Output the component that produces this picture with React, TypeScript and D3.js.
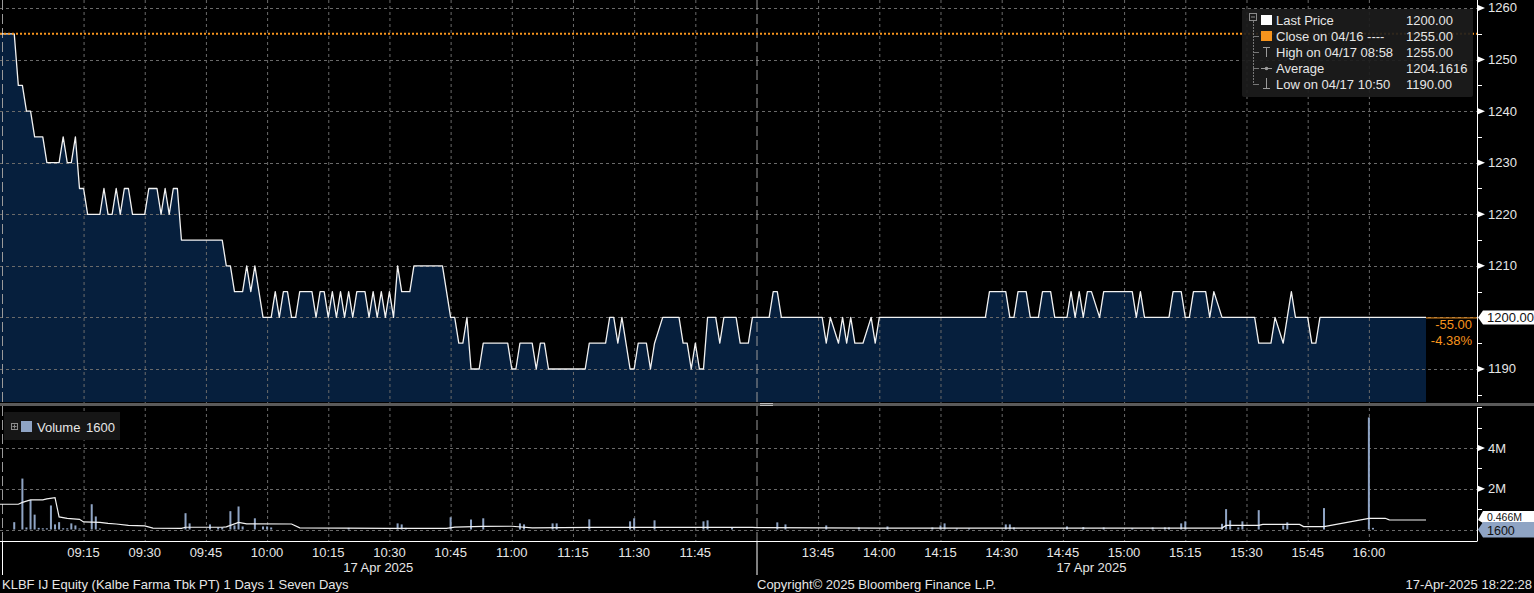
import React from 'react';
import * as d3 from 'd3';

const W = 1534;
const H = 593;

// Last price, morning session (time, IDR)
const PRICE_AM: [string, number][] = [
  ['08:54', 1255], ['08:58', 1255], ['08:59', 1245], ['09:00', 1245], ['09:01', 1240], ['09:02', 1240],
  ['09:03', 1235], ['09:05', 1235], ['09:06', 1230], ['09:09', 1230], ['09:10', 1235], ['09:11', 1230],
  ['09:12', 1230], ['09:13', 1235], ['09:14', 1225], ['09:15', 1225], ['09:16', 1220], ['09:19', 1220],
  ['09:20', 1225], ['09:21', 1220], ['09:22', 1220], ['09:23', 1225], ['09:24', 1220], ['09:25', 1225],
  ['09:26', 1225], ['09:27', 1220], ['09:30', 1220], ['09:31', 1225], ['09:33', 1225], ['09:34', 1220],
  ['09:35', 1225], ['09:36', 1220], ['09:37', 1225], ['09:38', 1225], ['09:39', 1215], ['09:49', 1215],
  ['09:50', 1210], ['09:51', 1210], ['09:52', 1205], ['09:54', 1205], ['09:55', 1210], ['09:56', 1205],
  ['09:57', 1210], ['09:58', 1205], ['09:59', 1200], ['10:01', 1200], ['10:02', 1205], ['10:03', 1200],
  ['10:04', 1205], ['10:05', 1205], ['10:06', 1200], ['10:07', 1200], ['10:08', 1205], ['10:11', 1205],
  ['10:12', 1200], ['10:13', 1205], ['10:14', 1205], ['10:15', 1200], ['10:16', 1205], ['10:17', 1200],
  ['10:18', 1205], ['10:19', 1200], ['10:20', 1205], ['10:21', 1200], ['10:22', 1205], ['10:24', 1205],
  ['10:25', 1200], ['10:26', 1205], ['10:27', 1200], ['10:28', 1205], ['10:29', 1200], ['10:30', 1205],
  ['10:31', 1200], ['10:32', 1210], ['10:33', 1205], ['10:35', 1205], ['10:36', 1210], ['10:43', 1210],
  ['10:45', 1200], ['10:46', 1200], ['10:47', 1195], ['10:48', 1195], ['10:49', 1200], ['10:50', 1190],
  ['10:52', 1190], ['10:53', 1195], ['10:59', 1195], ['11:00', 1190], ['11:01', 1190], ['11:02', 1195],
  ['11:05', 1195], ['11:06', 1190], ['11:07', 1195], ['11:08', 1195], ['11:09', 1190], ['11:18', 1190],
  ['11:19', 1195], ['11:23', 1195], ['11:24', 1200], ['11:25', 1200], ['11:26', 1195], ['11:27', 1200],
  ['11:29', 1190], ['11:30', 1190], ['11:31', 1195], ['11:33', 1195], ['11:34', 1190], ['11:35', 1195],
  ['11:37', 1200], ['11:41', 1200], ['11:42', 1195], ['11:43', 1195], ['11:44', 1190], ['11:45', 1195],
  ['11:46', 1190], ['11:47', 1190], ['11:48', 1200], ['11:50', 1200], ['11:51', 1195], ['11:52', 1200],
  ['11:55', 1200], ['11:56', 1195], ['11:58', 1195], ['11:59', 1200],
];

// Last price, afternoon session
const PRICE_PM: [string, number][] = [
  ['13:30', 1200], ['13:33', 1200], ['13:34', 1205], ['13:35', 1205], ['13:36', 1200], ['13:46', 1200],
  ['13:47', 1195], ['13:48', 1200], ['13:50', 1195], ['13:51', 1200], ['13:52', 1195], ['13:53', 1200],
  ['13:54', 1195], ['13:56', 1195], ['13:58', 1200], ['13:59', 1195], ['14:00', 1200], ['14:26', 1200],
  ['14:27', 1205], ['14:31', 1205], ['14:32', 1200], ['14:33', 1200], ['14:34', 1205], ['14:36', 1205],
  ['14:37', 1200], ['14:39', 1200], ['14:40', 1205], ['14:42', 1205], ['14:43', 1200], ['14:46', 1200],
  ['14:47', 1205], ['14:48', 1200], ['14:49', 1205], ['14:50', 1200], ['14:51', 1205], ['14:52', 1205],
  ['14:54', 1200], ['14:55', 1205], ['15:02', 1205], ['15:03', 1200], ['15:04', 1205], ['15:05', 1200],
  ['15:11', 1200], ['15:12', 1205], ['15:14', 1205], ['15:15', 1200], ['15:16', 1200], ['15:17', 1205],
  ['15:20', 1205], ['15:21', 1200], ['15:22', 1205], ['15:24', 1200], ['15:32', 1200], ['15:33', 1195],
  ['15:36', 1195], ['15:37', 1200], ['15:39', 1195], ['15:41', 1205], ['15:42', 1200], ['15:45', 1200],
  ['15:46', 1195], ['15:47', 1195], ['15:48', 1200], ['16:14', 1200],
];

// Volume per minute (millions of shares)
const VOLUME_AM: [string, number][] = [
  ['08:58', 0.36], ['09:00', 2.5], ['09:01', 0.1], ['09:02', 1.45], ['09:03', 0.73], ['09:04', 0.08],
  ['09:05', 0.06], ['09:06', 0.06], ['09:07', 1.18], ['09:08', 0.25], ['09:09', 0.36], ['09:10', 0.06],
  ['09:11', 0.06], ['09:12', 0.3], ['09:13', 0.2], ['09:14', 0.05], ['09:15', 0.05], ['09:17', 1.24],
  ['09:18', 0.64], ['09:19', 0.05], ['09:40', 0.8], ['09:41', 0.3], ['09:46', 0.25], ['09:48', 0.1],
  ['09:49', 0.1], ['09:51', 0.9], ['09:52', 0.2], ['09:53', 1.13], ['09:54', 0.15], ['09:57', 0.55],
  ['09:59', 0.15], ['10:00', 0.15], ['10:01', 0.1], ['10:20', 0.08], ['10:32', 0.3], ['10:33', 0.25],
  ['10:34', 0.08], ['10:45', 0.6], ['10:50', 0.49], ['10:53', 0.55], ['11:02', 0.3], ['11:03', 0.25],
  ['11:10', 0.3], ['11:11', 0.3], ['11:19', 0.5], ['11:29', 0.4], ['11:30', 0.55], ['11:35', 0.45],
  ['11:47', 0.4], ['11:48', 0.45], ['11:54', 0.1],
];

const VOLUME_PM: [string, number][] = [
  ['13:35', 0.35], ['13:37', 0.25], ['13:47', 0.2], ['13:55', 0.1], ['14:02', 0.15], ['14:13', 0.1],
  ['14:15', 0.2], ['14:16', 0.3], ['14:19', 0.05], ['14:22', 0.05], ['14:31', 0.25], ['14:32', 0.25],
  ['14:33', 0.1], ['14:46', 0.15], ['14:50', 0.12], ['14:55', 0.1], ['15:02', 0.06], ['15:07', 0.1],
  ['15:10', 0.1], ['15:11', 0.1], ['15:14', 0.3], ['15:15', 0.4], ['15:24', 0.28], ['15:25', 1.0],
  ['15:26', 0.45], ['15:28', 0.1], ['15:29', 0.4], ['15:33', 0.95], ['15:39', 0.2], ['15:40', 0.35],
  ['15:49', 1.05], ['16:00', 5.5], ['16:01', 0.08],
];

// Volume moving average (millions)
const VOLUME_AVG: [string, number][] = [
  ['08:54', 1.24], ['08:59', 1.24], ['09:00', 1.33], ['09:02', 1.45], ['09:05', 1.45], ['09:06', 1.5],
  ['09:08', 1.56], ['09:09', 0.62], ['09:11', 0.55], ['09:14', 0.5], ['09:15', 0.37], ['09:19', 0.35],
  ['09:21', 0.3], ['09:23', 0.27], ['09:26', 0.2], ['09:30', 0.18], ['09:32', 0.07], ['09:39', 0.06],
  ['09:40', 0.11], ['09:49', 0.11], ['09:50', 0.13], ['09:53', 0.35], ['09:55', 0.28], ['10:06', 0.27],
  ['10:08', 0.08], ['10:30', 0.06], ['10:44', 0.06], ['10:46', 0.12], ['10:53', 0.15], ['11:00', 0.16],
  ['11:05', 0.08], ['11:20', 0.1], ['11:59', 0.1], ['13:30', 0.09], ['14:00', 0.07], ['15:24', 0.07],
  ['15:25', 0.2], ['15:33', 0.2], ['15:34', 0.25], ['15:43', 0.25], ['15:44', 0.14], ['15:49', 0.14],
  ['16:00', 0.55], ['16:04', 0.55], ['16:05', 0.47], ['16:14', 0.466],
];

const TIME_TICKS = [
  '09:15', '09:30', '09:45', '10:00', '10:15', '10:30', '10:45', '11:00', '11:15', '11:30', '11:45',
  '13:45', '14:00', '14:15', '14:30', '14:45', '15:00', '15:15', '15:30', '15:45', '16:00',
];
const SESSION_BREAKS = ['08:55', '12:00'];
const PRICE_TICKS = [1190, 1200, 1210, 1220, 1230, 1240, 1250, 1260];
const PRICE_MINOR = [1185, 1195, 1205, 1215, 1225, 1235, 1245, 1255];
const VOL_TICKS = [2, 4];
const VOL_MINOR = [1, 3, 5, 6];
const PREV_CLOSE = 1255;
const LAST_PRICE = 1200;
const LAST_VOLUME = 1600;
const AVG_VOLUME = 0.466;
const DATE_LABEL = '17 Apr 2025';

const LEGEND = [
  { label: 'Last Price', value: '1200.00' },
  { label: 'Close on 04/16 ----', value: '1255.00' },
  { label: 'High on 04/17 08:58', value: '1255.00' },
  { label: 'Average', value: '1204.1616' },
  { label: 'Low on 04/17 10:50', value: '1190.00' },
];

const FONT = '"Liberation Sans", Arial, sans-serif';
const ORANGE = '#f7941d';
const FILL = '#061f3d';
const GRID = '#6a6a6a';
const VOL_COLOR = '#8fa4c4';

const toMin = (s: string) => {
  const [h, m] = s.split(':').map(Number);
  return h * 60 + m;
};

export default function App() {
  const plotRight = 1477;
  const priceBottom = 402;
  const volTop = 407;
  const axisY = 541.5;

  const x = d3
    .scaleLinear()
    .domain([toMin('08:55'), toMin('12:00'), toMin('13:30'), toMin('16:26') + 0.5])
    .range([2, 756.5, 756.9, plotRight]);
  const yP = d3.scaleLinear().domain([1183.6, 1261.55]).range([priceBottom, 0]);
  const yV = d3.scaleLinear().domain([0, 6]).range([529.5, 407.25]);

  const price = [...PRICE_AM, ...PRICE_PM];
  const line = d3
    .line<[string, number]>()
    .x((d) => x(toMin(d[0])))
    .y((d) => yP(d[1]));
  const area = d3
    .area<[string, number]>()
    .x((d) => x(toMin(d[0])))
    .y0(priceBottom)
    .y1((d) => yP(d[1]));
  const avgLine = d3
    .line<[string, number]>()
    .x((d) => x(toMin(d[0])))
    .y((d) => yV(d[1]));

  const volumes = [...VOLUME_AM, ...VOLUME_PM];
  const lastX = x(toMin(price[price.length - 1][0]));
  const firstX = x(toMin(price[0][0]));
  const amMid = (Math.max(0, firstX) + x(toMin('12:00'))) / 2;
  const pmMid = (x(toMin('13:30')) + lastX) / 2;

  const arrow = (y: number) => `M${plotRight + 1},${y - 3} L${plotRight + 8},${y} L${plotRight + 1},${y + 3} Z`;
  const tag = (y: number, top: number, bottom: number) =>
    `M${plotRight + 1},${y} L${plotRight + 6},${top} L${W},${top} L${W},${bottom} L${plotRight + 6},${bottom} Z`;

  const lgX = 1242;
  const lgY = 9;
  const rowY = (i: number) => 25 + i * 16;
  const avgY = yV(AVG_VOLUME);

  return (
    <svg
      width={W}
      height={H}
      style={{ position: 'fixed', left: 0, top: 0, background: '#000', display: 'block' }}
      fontFamily={FONT}
    >
      <rect x={0} y={0} width={W} height={H} fill="#000" />
      <defs>
        <clipPath id="pclip">
          <rect x={0} y={0} width={plotRight} height={priceBottom} />
        </clipPath>
        <clipPath id="vclip">
          <rect x={0} y={volTop} width={plotRight} height={axisY - volTop} />
        </clipPath>
      </defs>

      {/* price area */}
      <g clipPath="url(#pclip)">
        <path d={area(price) || ''} fill={FILL} />
      </g>

      {/* grid */}
      {TIME_TICKS.map((t) => (
        <line key={'vg' + t} x1={x(toMin(t)) + 0.5} x2={x(toMin(t)) + 0.5} y1={0} y2={axisY} stroke={GRID} strokeDasharray="3,3" />
      ))}
      {PRICE_TICKS.map((p) => (
        <line key={'hg' + p} x1={0} x2={plotRight} y1={Math.round(yP(p)) + 0.5} y2={Math.round(yP(p)) + 0.5} stroke={GRID} strokeDasharray="3,3" />
      ))}
      {[0, ...VOL_TICKS].map((v) => (
        <line key={'vgh' + v} x1={0} x2={plotRight} y1={Math.round(yV(v)) + 0.5} y2={Math.round(yV(v)) + 0.5} stroke={GRID} strokeDasharray="3,3" />
      ))}
      {SESSION_BREAKS.map((t) => (
        <line key={'sb' + t} x1={x(toMin(t)) + 0.5} x2={x(toMin(t)) + 0.5} y1={0} y2={axisY} stroke="#9a9a9a" strokeDasharray="10,4" />
      ))}

      {/* price line */}
      <g clipPath="url(#pclip)">
        <path d={line(price) || ''} fill="none" stroke="#f2f2f2" strokeWidth={1.3} strokeLinejoin="round" />
        <line x1={lastX} x2={plotRight} y1={yP(LAST_PRICE) + 0.5} y2={yP(LAST_PRICE) + 0.5} stroke={ORANGE} strokeWidth={1} />
        <line x1={0} x2={plotRight} y1={yP(PREV_CLOSE)} y2={yP(PREV_CLOSE)} stroke={ORANGE} strokeWidth={2} strokeDasharray="2,2" />
      </g>

      {/* volume */}
      <g clipPath="url(#vclip)">
        {volumes.map(([t, v]) => (
          <rect key={'vb' + t} x={x(toMin(t)) - 1} y={yV(v)} width={2} height={yV(0) - yV(v)} fill={VOL_COLOR} />
        ))}
        <path d={avgLine(VOLUME_AVG) || ''} fill="none" stroke="#f2f2f2" strokeWidth={1.2} />
      </g>

      {/* panel separator */}
      <rect x={0} y={403} width={W} height={3} fill="#5a5a5a" />
      <line x1={760} x2={773} y1={403.5} y2={403.5} stroke="#bbb" />
      <line x1={760} x2={773} y1={405.5} y2={405.5} stroke="#bbb" />

      {/* right axes */}
      <line x1={plotRight + 0.5} x2={plotRight + 0.5} y1={0} y2={priceBottom} stroke="#fff" />
      <line x1={plotRight + 0.5} x2={plotRight + 0.5} y1={volTop} y2={axisY} stroke="#fff" />
      {PRICE_MINOR.map((p) => (
        <line key={'pm' + p} x1={plotRight} x2={plotRight + 5} y1={Math.round(yP(p)) + 0.5} y2={Math.round(yP(p)) + 0.5} stroke="#fff" />
      ))}
      {PRICE_TICKS.filter((p) => p !== LAST_PRICE).map((p) => (
        <g key={'pt' + p}>
          <path d={arrow(yP(p))} fill="#fff" />
          <text x={plotRight + 11} y={yP(p) + 4.5} fill="#e6e6e6" fontSize={13}>
            {p}
          </text>
        </g>
      ))}
      {VOL_MINOR.map((v) => (
        <line key={'vm' + v} x1={plotRight} x2={plotRight + 5} y1={Math.round(yV(v)) + 0.5} y2={Math.round(yV(v)) + 0.5} stroke="#fff" />
      ))}
      {VOL_TICKS.map((v) => (
        <g key={'vt' + v}>
          <path d={arrow(yV(v))} fill="#fff" />
          <text x={plotRight + 11} y={yV(v) + 4.5} fill="#e6e6e6" fontSize={13}>
            {v}M
          </text>
        </g>
      ))}

      {/* last price tag */}
      <path d={tag(yP(LAST_PRICE), yP(LAST_PRICE) - 7, yP(LAST_PRICE) + 7)} fill="#fff" />
      <text x={plotRight + 10} y={yP(LAST_PRICE) + 4.5} fill="#111" fontSize={13}>
        {LAST_PRICE.toFixed(2)}
      </text>
      <text x={1472} y={329} fill={ORANGE} fontSize={13} textAnchor="end">
        {(LAST_PRICE - PREV_CLOSE).toFixed(2)}
      </text>
      <text x={1472} y={345} fill={ORANGE} fontSize={13} textAnchor="end">
        {(((LAST_PRICE - PREV_CLOSE) / PREV_CLOSE) * 100).toFixed(2)}%
      </text>

      {/* volume tags */}
      <path d={tag(avgY, avgY - 9, avgY + 3)} fill="#fff" />
      <text x={plotRight + 10} y={avgY + 0.5} fill="#111" fontSize={10.5}>
        {AVG_VOLUME.toFixed(3)}M
      </text>
      <path d={tag(yV(0), 522, 537.5)} fill={VOL_COLOR} />
      <text x={plotRight + 10} y={535} fill="#111" fontSize={12.5}>
        {LAST_VOLUME}
      </text>

      {/* x axis */}
      <line x1={0} x2={plotRight} y1={axisY} y2={axisY} stroke="#fff" />
      {SESSION_BREAKS.map((t) => (
        <line key={'ax' + t} x1={x(toMin(t)) + 0.5} x2={x(toMin(t)) + 0.5} y1={axisY} y2={575} stroke="#fff" />
      ))}
      {TIME_TICKS.map((t) => (
        <text key={'tl' + t} x={x(toMin(t))} y={557} fill="#e6e6e6" fontSize={13} textAnchor="middle">
          {t}
        </text>
      ))}
      <text x={amMid} y={572} fill="#e6e6e6" fontSize={13} textAnchor="middle">
        {DATE_LABEL}
      </text>
      <text x={pmMid} y={572} fill="#e6e6e6" fontSize={13} textAnchor="middle">
        {DATE_LABEL}
      </text>

      {/* footer */}
      <text x={2} y={589} fill="#e6e6e6" fontSize={13}>
        KLBF IJ Equity (Kalbe Farma Tbk PT) 1 Days 1 Seven Days
      </text>
      <text x={757} y={589} fill="#e6e6e6" fontSize={13}>
        Copyright© 2025 Bloomberg Finance L.P.
      </text>
      <text x={1532} y={589} fill="#e6e6e6" fontSize={13} textAnchor="end">
        17-Apr-2025 18:22:28
      </text>

      {/* price legend */}
      <rect x={lgX} y={lgY} width={231} height={88} fill="#1c1c1c" fillOpacity={0.92} rx={2} />
      <rect x={1249.5} y={13.5} width={7} height={7} fill="none" stroke="#8a8a8a" />
      <line x1={1251} x2={1255} y1={17} y2={17} stroke="#8a8a8a" />
      <line x1={1253.5} x2={1253.5} y1={21} y2={rowY(4) - 4} stroke="#777" strokeDasharray="2,1" />
      {LEGEND.map((r, i) => (
        <g key={'lg' + i}>
          {i > 0 && <line x1={1253} x2={1259} y1={rowY(i) - 4.5} y2={rowY(i) - 4.5} stroke="#777" />}
          <text x={1276} y={rowY(i)} fill="#e6e6e6" fontSize={13}>
            {r.label}
          </text>
          <text x={1406} y={rowY(i)} fill="#e6e6e6" fontSize={13}>
            {r.value}
          </text>
        </g>
      ))}
      <rect x={1261} y={15} width={11} height={10} fill="#fff" />
      <rect x={1261} y={31} width={11} height={10} fill={ORANGE} />
      {/* high icon */}
      <line x1={1263} x2={1270} y1={47.5} y2={47.5} stroke="#9a9a9a" />
      <line x1={1266.5} x2={1266.5} y1={47.5} y2={57} stroke="#9a9a9a" />
      {/* average icon */}
      <line x1={1261} x2={1272} y1={68.5} y2={68.5} stroke="#9a9a9a" />
      <circle cx={1266.5} cy={68.5} r={1.8} fill="#9a9a9a" />
      {/* low icon */}
      <line x1={1266.5} x2={1266.5} y1={78} y2={88.5} stroke="#9a9a9a" />
      <line x1={1263} x2={1270} y1={88.5} y2={88.5} stroke="#9a9a9a" />

      {/* volume legend */}
      <rect x={4} y={412} width={116} height={28} fill="#161616" />
      <rect x={11.5} y={423.5} width={6} height={6} fill="none" stroke="#8a8a8a" />
      <line x1={12.5} x2={16.5} y1={426.5} y2={426.5} stroke="#8a8a8a" />
      <line x1={14.5} x2={14.5} y1={424.5} y2={428.5} stroke="#8a8a8a" />
      <rect x={21} y={421} width={11} height={11} fill={VOL_COLOR} />
      <text x={37} y={432} fill="#e6e6e6" fontSize={13}>
        Volume
      </text>
      <text x={86} y={432} fill="#e6e6e6" fontSize={13}>
        {LAST_VOLUME}
      </text>
    </svg>
  );
}
